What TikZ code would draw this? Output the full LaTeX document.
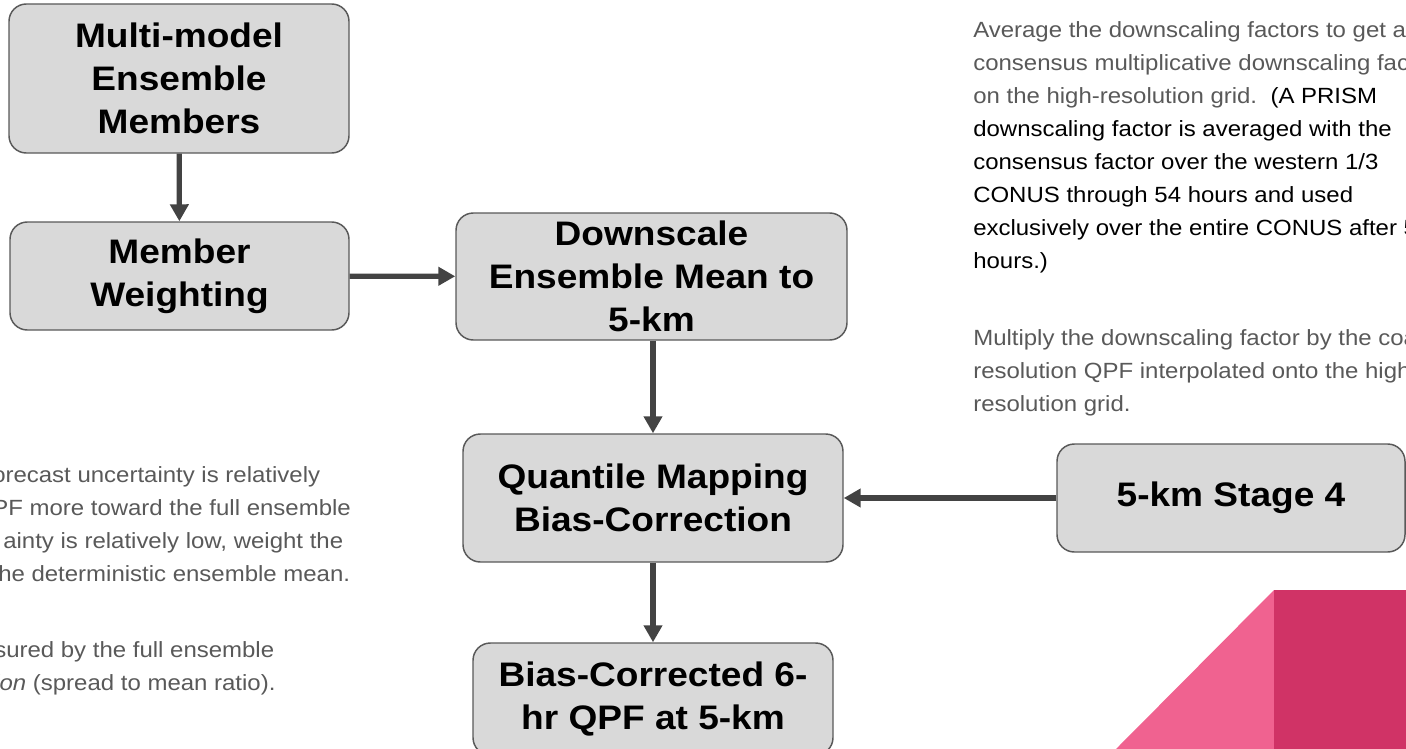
\documentclass[tikz,border=0pt]{standalone}
\usepackage{fontspec}
\setmainfont{Liberation Sans}[FakeStretch=1.09]
\usetikzlibrary{arrows.meta,positioning}
\definecolor{boxfill}{HTML}{D9D9D9}
\definecolor{boxline}{HTML}{595959}
\definecolor{arrowgray}{HTML}{434343}
\definecolor{notegray}{HTML}{595959}
\definecolor{pinklight}{HTML}{F06290}
\definecolor{pinkdark}{HTML}{D03366}
\newcommand\boxfont{\fontsize{25.5pt}{32pt}\selectfont\bfseries}
\newcommand\notefont{\fontsize{16.5pt}{24.75pt}\selectfont}
\tikzset{
	stepbox/.style={draw=boxline, fill=boxfill, line width=1.1pt, rounded corners=13pt, align=center, font=\boxfont, inner sep=0pt},
	flow/.style={draw=arrowgray, line width=4pt, -{Triangle[length=12.75pt,width=13.5pt]}},
	note/.style={align=left, font=\notefont, text=notegray, inner sep=0pt, anchor=north west},
}

\begin{document}
\begin{tikzpicture}[x=0.75pt, y=-0.75pt]
        \useasboundingbox (0,0) rectangle (1406,749);
        \clip (0,0) rectangle (1406,749);
        \fill [pinklight] (1116,749) -- (1274,590) -- (1274,749) -- cycle;
        \fill [pinkdark] (1274,590) rectangle (1406,749);
        \node (multi) [stepbox, minimum width=255pt, minimum height=111.75pt] at (179,78.5) {Multi-model\\ Ensemble\\ Members};
        \node (weight) [stepbox, minimum width=254.25pt, minimum height=81pt] at (179.5,276) {Member\\ Weighting};
        \node (down) [stepbox, minimum width=293.25pt, minimum height=95.25pt] at (651.5,276.5) {Downscale\\ Ensemble Mean to\\ 5-km};
        \node (quant) [stepbox, minimum width=285pt, minimum height=96pt] at (653,498) {Quantile Mapping\\ Bias-Correction};
        \node (biasqpf) [stepbox, minimum width=270pt, minimum height=84pt] at (653,699) {Bias-Corrected 6-\\ hr QPF at 5-km};
        \node (stage) [stepbox, minimum width=261pt, minimum height=81pt] at (1231,498) {5-km Stage 4};
        \node (avgnote) [note] at (973,21) {Average the downscaling factors to get a\\ consensus multiplicative downscaling fac\\ on the high-resolution grid.\ \ \textcolor{black}{(A PRISM}\\ \textcolor{black}{downscaling factor is averaged with the}\\ \textcolor{black}{consensus factor over the western 1/3}\\ \textcolor{black}{CONUS through 54 hours and used}\\ \textcolor{black}{exclusively over the entire CONUS after 5}\\ \textcolor{black}{hours.)}};
        \node (multnote) [note] at (973,329) {Multiply the downscaling factor by the coa\\ resolution QPF interpolated onto the high\\ resolution grid.};
        \node (weightnote) [note] at (-8,466) {orecast uncertainty is relatively\\ PF more toward the full ensemble\\ \hspace*{8.25pt}ainty is relatively low, weight the\\ \hspace*{4.5pt}he deterministic ensemble mean.};
        \node (spreadnote) [note] at (-6,641) {sured by the full ensemble\\ \textit{ion} (spread to mean ratio).};
        \path [flow] (multi) -- (weight);
        \path [flow] (weight) -- (down);
        \path [flow] (down.south -| quant.north) -- (quant.north);
        \path [flow] (stage) -- (quant);
        \path [flow] (quant) -- (biasqpf);
    \end{tikzpicture}
\end{document}
